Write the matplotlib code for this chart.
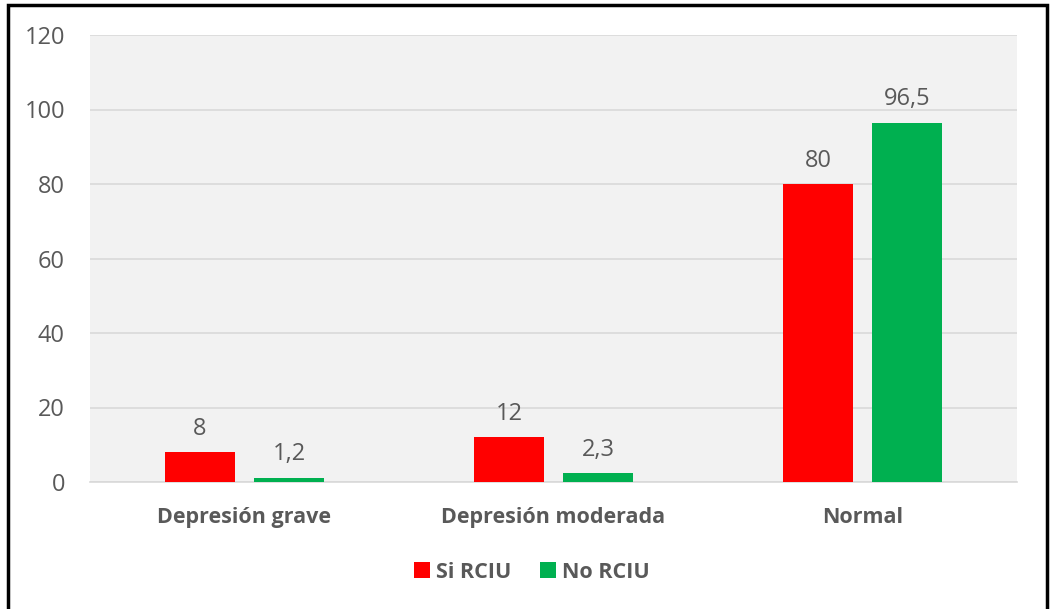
import matplotlib
matplotlib.use("Agg")
import matplotlib.pyplot as plt
from matplotlib.patches import Rectangle
import numpy as np

categories = ["Depresión grave", "Depresión moderada", "Normal"]
si_rciu = [8, 12, 80]
no_rciu = [1.2, 2.3, 96.5]
si_labels = ["8", "12", "80"]
no_labels = ["1,2", "2,3", "96,5"]
yticks = [0, 20, 40, 60, 80, 100, 120]

plt.rcParams['font.family'] = ['Open Sans', 'DejaVu Sans']

W, H = 1051, 609
fig = plt.figure(figsize=(W/100, H/100), dpi=100)
ax = fig.add_axes([90/W, 1-482/H, (1017-90)/W, (482-35)/H])
ax.set_facecolor('#F2F2F2')

x = np.arange(len(categories))
bw = 0.227
off = 0.144
red = '#FF0000'
green = '#00B050'
b1 = ax.bar(x - off, si_rciu, bw, color=red, label='Si RCIU', zorder=3)
b2 = ax.bar(x + off, no_rciu, bw, color=green, label='No RCIU', zorder=3)

txtc = '#595959'
for rect, lab in zip(b1, si_labels):
    ax.annotate(lab, (rect.get_x()+rect.get_width()/2, rect.get_height()),
                xytext=(0, 8), textcoords='offset points', ha='center', va='bottom',
                fontsize=17, color=txtc)
for rect, lab in zip(b2, no_labels):
    ax.annotate(lab, (rect.get_x()+rect.get_width()/2, rect.get_height()),
                xytext=(0, 8), textcoords='offset points', ha='center', va='bottom',
                fontsize=17, color=txtc)

ax.set_xlim(-0.5, 2.5)
ax.set_ylim(0, 120)
ax.set_yticks(yticks)
ax.set_yticklabels([str(t) for t in yticks], fontsize=17, color=txtc)
ax.set_xticks(x)
ax.set_xticklabels(categories, fontsize=15.5, fontweight='bold', color=txtc)
ax.tick_params(axis='both', length=0)
ax.tick_params(axis='y', pad=18)
ax.tick_params(axis='x', pad=18)
ax.yaxis.grid(True, color='#D9D9D9', linewidth=1.2, zorder=0)
ax.set_axisbelow(True)
for s in ['top', 'right', 'left']:
    ax.spines[s].set_visible(False)
ax.spines['bottom'].set_color('#D9D9D9')
ax.spines['bottom'].set_linewidth(1.2)

leg = fig.legend(handles=[b1, b2], labels=['Si RCIU', 'No RCIU'], loc='center',
                 bbox_to_anchor=(532/W, 1-572/H), ncol=2, frameon=False,
                 fontsize=15.5, handlelength=0.75, handleheight=0.75, handletextpad=0.3,
                 columnspacing=1.3)
for t in leg.get_texts():
    t.set_color(txtc)
    t.set_fontweight('bold')

fig.patches.append(Rectangle((8/W, -0.1), (1047-8)/W, 1.1 - 5/H, transform=fig.transFigure,
                             fill=False, edgecolor='black', linewidth=2.5, zorder=10))

fig.savefig('out.png', dpi=100)
